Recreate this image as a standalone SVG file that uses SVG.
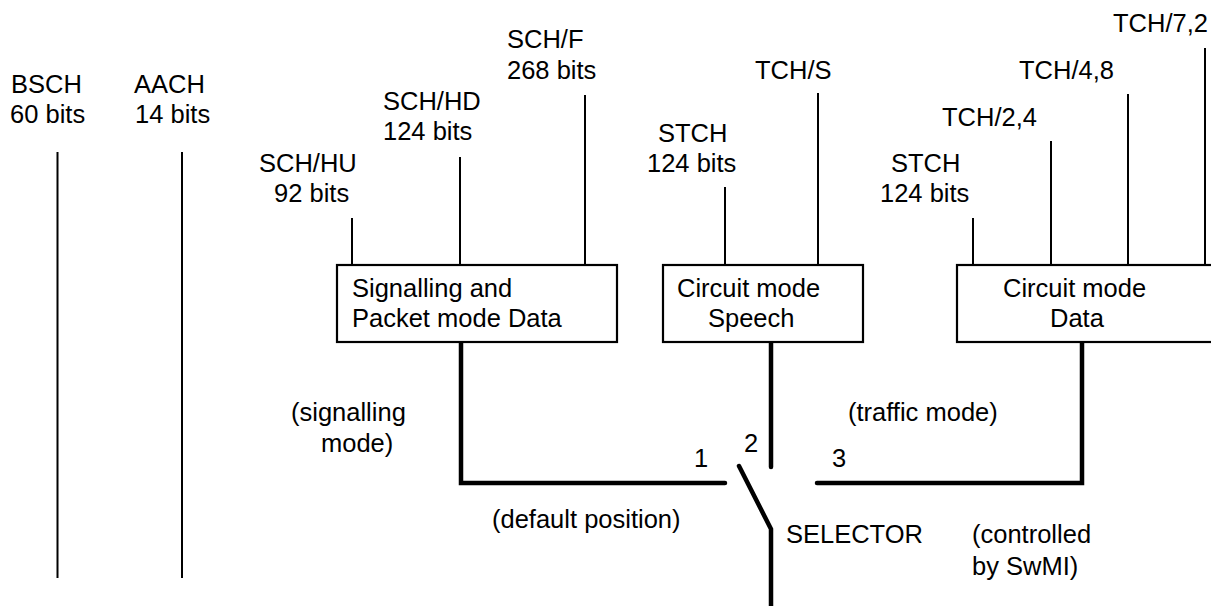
<svg xmlns="http://www.w3.org/2000/svg" width="1211" height="606" viewBox="0 0 1211 606">
<style>
text{font-family:"Liberation Sans",Arial,sans-serif;font-size:25.5px;fill:#000}
.thin{stroke:#000;stroke-width:2;fill:none}
.box{stroke:#000;stroke-width:2.2;fill:#fff}
.thick{stroke:#000;stroke-width:4.5;fill:none;stroke-linecap:round;stroke-linejoin:miter}
</style>
<rect width="1211" height="606" fill="#fff"/>
<g id="connectors">
<line class="thin" x1="57.5" y1="152" x2="57.5" y2="578"/>
<line class="thin" x1="182" y1="152" x2="182" y2="578"/>
<line class="thin" x1="352" y1="218" x2="352" y2="265"/>
<line class="thin" x1="460" y1="157" x2="460" y2="265"/>
<line class="thin" x1="585" y1="95" x2="585" y2="265"/>
<line class="thin" x1="725" y1="187" x2="725" y2="265"/>
<line class="thin" x1="818" y1="93" x2="818" y2="265"/>
<line class="thin" x1="973" y1="218" x2="973" y2="265"/>
<line class="thin" x1="1051" y1="141" x2="1051" y2="265"/>
<line class="thin" x1="1128" y1="94" x2="1128" y2="265"/>
<line class="thin" x1="1205" y1="48" x2="1205" y2="265"/>
<path class="thick" d="M461,343 V483 H725"/>
<path class="thick" d="M771,343 V467"/>
<path class="thick" d="M817,483 H1082 V343"/>
<path class="thick" d="M739,466 L771,529 V606"/>
</g>
<g id="bsch"><text x="11" y="93">BSCH</text><text x="10" y="123">60 bits</text></g>
<g id="aach"><text x="134" y="93">AACH</text><text x="135" y="123">14 bits</text></g>
<g id="schhu"><text x="259" y="172">SCH/HU</text><text x="274" y="202">92 bits</text></g>
<g id="schhd"><text x="383" y="110">SCH/HD</text><text x="383" y="140">124 bits</text></g>
<g id="schf"><text x="507" y="48">SCH/F</text><text x="507" y="79">268 bits</text></g>
<g id="stch1"><text x="658" y="142">STCH</text><text x="647" y="172">124 bits</text></g>
<g id="tchs"><text x="755" y="79">TCH/S</text></g>
<g id="stch2"><text x="891" y="172">STCH</text><text x="880" y="202">124 bits</text></g>
<g id="tch24"><text x="942" y="126">TCH/2,4</text></g>
<g id="tch48"><text x="1019" y="79">TCH/4,8</text></g>
<g id="tch72"><text x="1113" y="32">TCH/7,2</text></g>
<g id="box-signalling">
<rect class="box" x="337" y="265" width="280" height="77"/>
<text x="352" y="297">Signalling and</text><text x="352" y="327">Packet mode Data</text>
</g>
<g id="box-speech">
<rect class="box" x="663" y="265" width="200" height="77"/>
<text x="677" y="297">Circuit mode</text><text x="708" y="327">Speech</text>
</g>
<g id="box-data">
<rect class="box" x="957" y="265" width="270" height="77"/>
<text x="1003" y="297">Circuit mode</text><text x="1050" y="327">Data</text>
</g>
<g id="labels">
<text x="291" y="421">(signalling</text><text x="321" y="452">mode)</text>
<text x="694" y="467">1</text>
<text x="744" y="452">2</text>
<text x="832" y="467">3</text>
<text x="848" y="421">(traffic mode)</text>
<text x="492" y="528">(default position)</text>
<text x="786" y="543">SELECTOR</text>
<text x="972" y="543">(controlled</text><text x="972" y="575">by SwMI)</text>
</g>
</svg>
